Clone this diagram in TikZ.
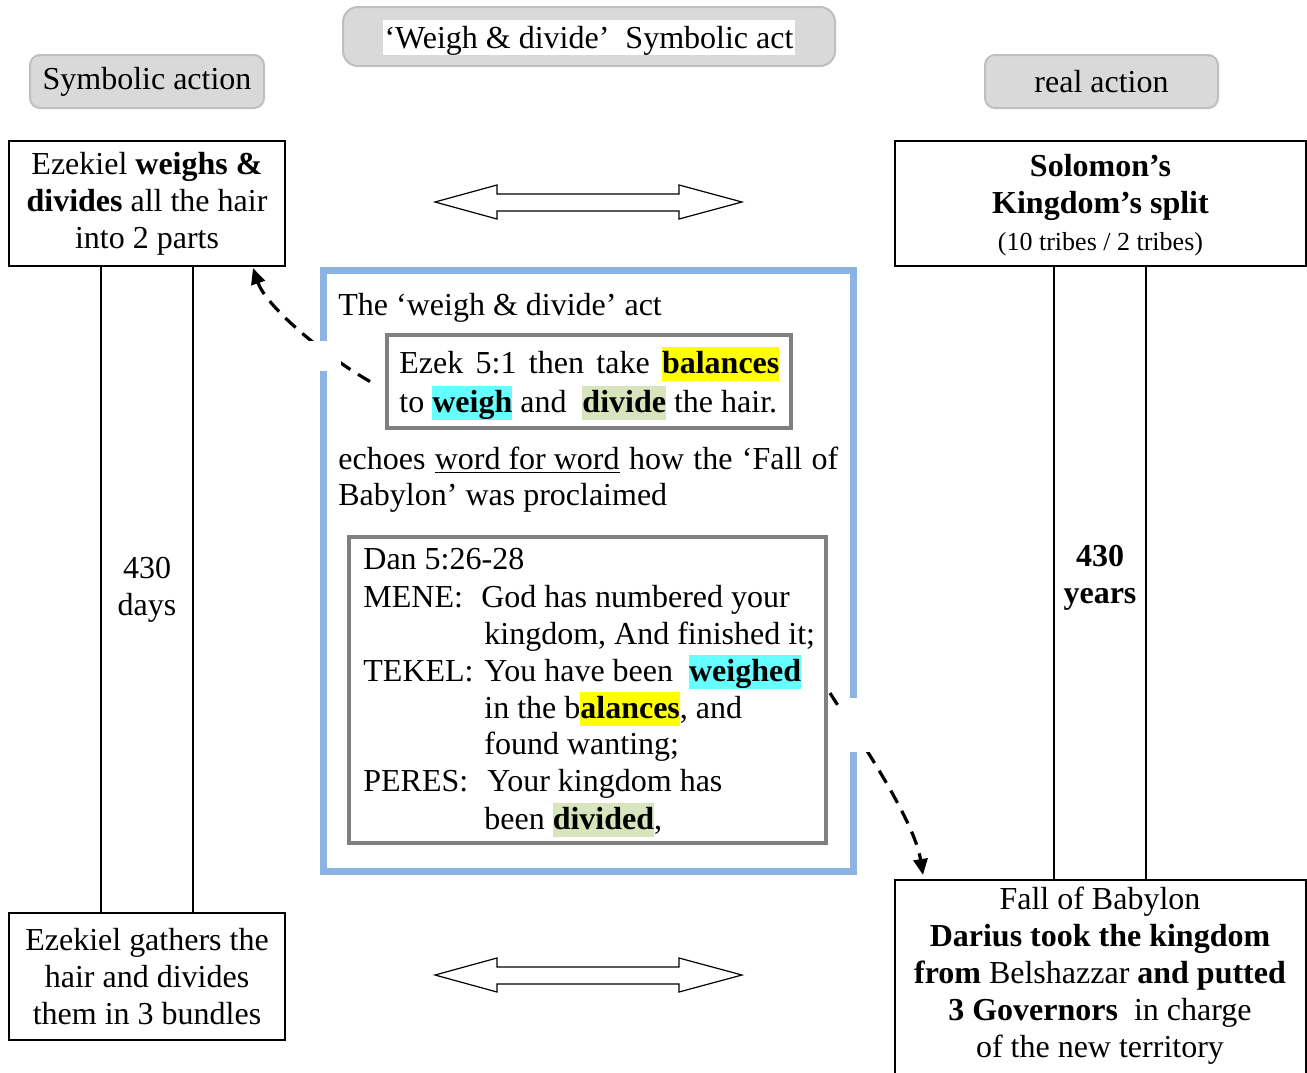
\documentclass[tikz,border=0pt]{standalone}
\usepackage{fontspec}
\setmainfont{Liberation Serif}
\usetikzlibrary{arrows.meta,calc}
\definecolor{hlyellow}{HTML}{FFFF00}
\definecolor{hlcyan}{HTML}{66FFFF}
\definecolor{hlgreen}{HTML}{D7E4BD}
\definecolor{framegray}{HTML}{808080}
\definecolor{frameblue}{HTML}{8DB3E2}
\definecolor{tabfill}{HTML}{D9D9D9}
\definecolor{tabline}{HTML}{BFBFBF}
\newcommand{\bodyfont}{\fontsize{16}{18.5}\selectfont}
\newcommand{\hlbox}[2]{{\setlength{\fboxsep}{0pt}\colorbox{#1}{\rule[-4pt]{0pt}{17pt}\bfseries #2}}}
\tikzset{
  txt/.style={inner sep=0pt, font=\bodyfont, anchor=base west},
  tab/.style={draw=tabline, fill=tabfill, line width=1pt, rounded corners=5pt, inner sep=0pt, font=\bodyfont},
  blackbox/.style={draw=black, line width=1pt, inner sep=0pt, align=center, font=\bodyfont},
  graybox/.style={draw=framegray, line width=2pt, inner sep=0pt},
  link/.style={line width=1.6pt, dash pattern=on 7pt off 4.5pt, -{Triangle[length=8pt,width=7pt]}},
  dblarrow/.style={draw=black, line width=0.6pt, fill=white},
}
\begin{document}
\begin{tikzpicture}[x=0.5pt,y=-0.5pt]
\useasboundingbox (0,0) rectangle (1307,1072);

% header tabs
\node[tab, minimum width=117pt, minimum height=26.5pt] (symL) at (147,81.5) {Symbolic action};
\node[tab, rounded corners=7.5pt, minimum width=246pt, minimum height=29.5pt] (top) at (589,36.5) {};
\node[fill=white, inner sep=0pt, minimum width=206pt, minimum height=17.5pt] (topBg) at (589,37.5) {};
\node[txt, anchor=base] (topText) at (589,48) {‘Weigh \& divide’\ \ Symbolic act};
\node[tab, minimum width=116.5pt, minimum height=26.5pt] (real) at (1101.5,81.5) {real action};

% left column
\node[blackbox, minimum width=138pt, minimum height=62.5pt] (ezTop) at (147,203.5)
  {Ezekiel \textbf{weighs \&}\\\textbf{divides} all the hair\\into 2 parts};
\node[blackbox, minimum width=46pt, minimum height=323.5pt] (barL) at (147,589.5) {430\\days};
\node[blackbox, minimum width=138pt, minimum height=63.5pt] (ezBot) at (147,976.5)
  {Ezekiel gathers the\\hair and divides\\them in 3 bundles};

% right column
\node[blackbox, minimum width=205.5pt, minimum height=62.5pt] (solTop) at (1100.5,203.5) {};
\node[inner sep=0pt, align=center, font=\bodyfont] (solText) at (1100.5,205)
  {\textbf{Solomon’s}\\\textbf{Kingdom’s split}\\{\fontsize{13}{15.5}\selectfont (10 tribes / 2 tribes)}};
\node[blackbox, minimum width=46pt, minimum height=307pt] (barR) at (1100,573) {};
\node[inner sep=0pt, align=center, font=\bodyfont\bfseries] (barRText) at (1100,578) {430\\years};
\node[blackbox, minimum width=205.5pt, minimum height=100pt] (fall) at (1100.5,980) {};
\node[inner sep=0pt, align=center, font=\bodyfont] (fallText) at (1100,976)
  {Fall of Babylon\\\textbf{Darius took the kingdom}\\\textbf{from} Belshazzar \textbf{and putted}\\\textbf{3 Governors}\ \ in charge\\of the new territory};

% double arrows
\draw[dblarrow] (435,202) -- (497,185) -- (497,194) -- (679,194) -- (679,185) -- (742,202)
  -- (679,219) -- (679,211) -- (497,211) -- (497,219) -- cycle;
\draw[dblarrow] (435,975) -- (497,958) -- (497,967) -- (679,967) -- (679,958) -- (742,975)
  -- (679,992) -- (679,984) -- (497,984) -- (497,992) -- cycle;

% central frame
\node[draw=frameblue, line width=3.5pt, inner sep=0pt, minimum width=265.25pt, minimum height=300.25pt] (frame) at (588.25,570.75) {};
\node[txt] (t1) at (338,315) {The ‘weigh \& divide’ act};
\node[graybox, minimum width=202pt, minimum height=46.5pt] (ezek) at (589,381.5) {};
\node[txt] (e1) at (399,373) {\makebox[190pt][s]{Ezek 5:1 then take \hlbox{hlyellow}{balances}}};
\node[txt] (e2) at (399,412) {to \hlbox{hlcyan}{weigh} and\ \ \hlbox{hlgreen}{divide} the hair.};
\node[txt] (c1) at (338,469) {\makebox[250pt][s]{echoes \underline{word for word} how the ‘Fall of}};
\node[txt] (c2) at (338,505) {Babylon’ was proclaimed};
\node[graybox, minimum width=238.5pt, minimum height=153pt] (dan) at (587.5,690) {};
\node[txt] (d1) at (363,569) {Dan 5:26-28};
\node[txt] (d2) at (363,607) {\makebox[59pt][l]{MENE:}God has numbered your};
\node[txt] (d3) at (484,644) {kingdom, And finished it;};
\node[txt] (d4) at (363,681) {\makebox[60.5pt][l]{TEKEL:}You have been\ \ \hlbox{hlcyan}{weighed}};
\node[txt] (d5) at (484,718) {in the b\hlbox{hlyellow}{alances}, and};
\node[txt] (d6) at (484,754) {found wanting;};
\node[txt] (d7) at (363,791) {\makebox[62pt][l]{PERES:}Your kingdom has};
\node[txt] (d8) at (484,829) {been \hlbox{hlgreen}{divided},};

% dashed links
\coordinate (lnkL) at (253,268);
\coordinate (lnkR) at (923,875);
\draw[link] ($(ezek.west)+(-15,0)$) .. controls (322,354) and (266,306) .. (lnkL);
\draw[link] ($(dan.east)+(2,3)$) .. controls (852,728) and (914,818) .. (lnkR);

% openings in the frame
\fill[white] (296,341) rectangle (341,371);
\fill[white] (839,698) rectangle (874,752);
\end{tikzpicture}
\end{document}
